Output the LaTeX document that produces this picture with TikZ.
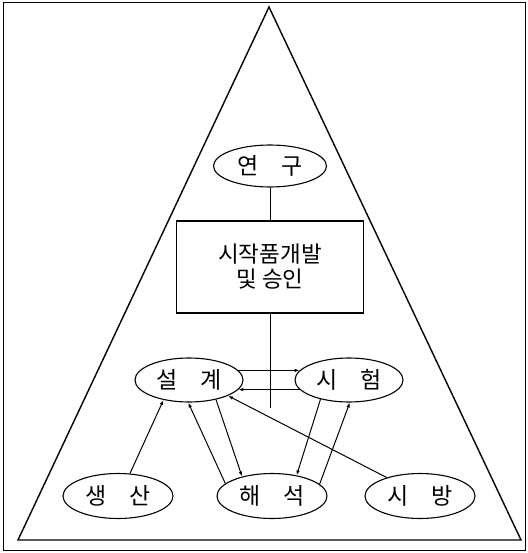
\documentclass[tikz,border=0pt]{standalone}
\usepackage{fontspec}
\newfontfamily\kr{Noto Sans CJK KR}
\usetikzlibrary{shapes.geometric,arrows.meta}
\tikzset{
  oval/.style={draw, ellipse, line width=1.1pt, inner sep=0pt, minimum width=110pt, minimum height=45pt, font=\kr\fontsize{23}{26}\selectfont},
  stepbox/.style={draw, rectangle, line width=1.1pt, inner sep=0pt, minimum width=187pt, minimum height=92pt, align=center, font=\kr\fontsize{22.5}{25}\selectfont},
  link/.style={line width=1pt},
  arr/.style={line width=1pt, -{Latex[length=5pt,width=3.5pt]}}
}
\begin{document}
\begin{tikzpicture}[x=1pt,y=-1pt]
\useasboundingbox (0,0) rectangle (527,553);
% outer frame
\draw[line width=0.8pt] (3,2) rectangle (525,550);
% triangle
\draw[line width=1.4pt, line join=miter] (269,7) -- (18,540) -- (521,540) -- cycle;
% nodes
\node[oval, minimum width=113pt, minimum height=42pt] (yg) at (270,166) {연\quad 구};
\node[stepbox] (box) at (270,267) {시작품개발\\및 승인};
\node[oval, minimum width=108pt, minimum height=44pt] (sg) at (189,380) {설\quad 계};
\node[oval, minimum width=108pt, minimum height=44pt] (sh) at (349,380) {시\quad 험};
\node[oval] (ss) at (118,496) {생\quad 산};
\node[oval] (hs) at (272,496) {해\quad 석};
\node[oval] (sb) at (420,496) {시\quad 방};
\coordinate (vend) at (270,408);
% vertical line
\draw[link] (yg.south) -- (box.north);
\draw[link] (box.south) -- (vend);
% arrows between 설계 and 시험
\draw[arr] (sg.11) -- (sh.169);
\draw[arr] (sh.191) -- (sg.349);
% arrows to and from the bottom
\draw[arr] (ss.62) -- (sg.218.5);
\draw[arr] (hs.165.5) -- (sg.268);
\draw[arr] (sg.324) -- (hs.147.4);
\draw[arr] (sb.151.5) -- (sg.338.6);
\draw[arr] (sh.214.6) -- (hs.40.6);
\draw[arr] (hs.14.3) -- (sh.272);
\end{tikzpicture}
\end{document}
